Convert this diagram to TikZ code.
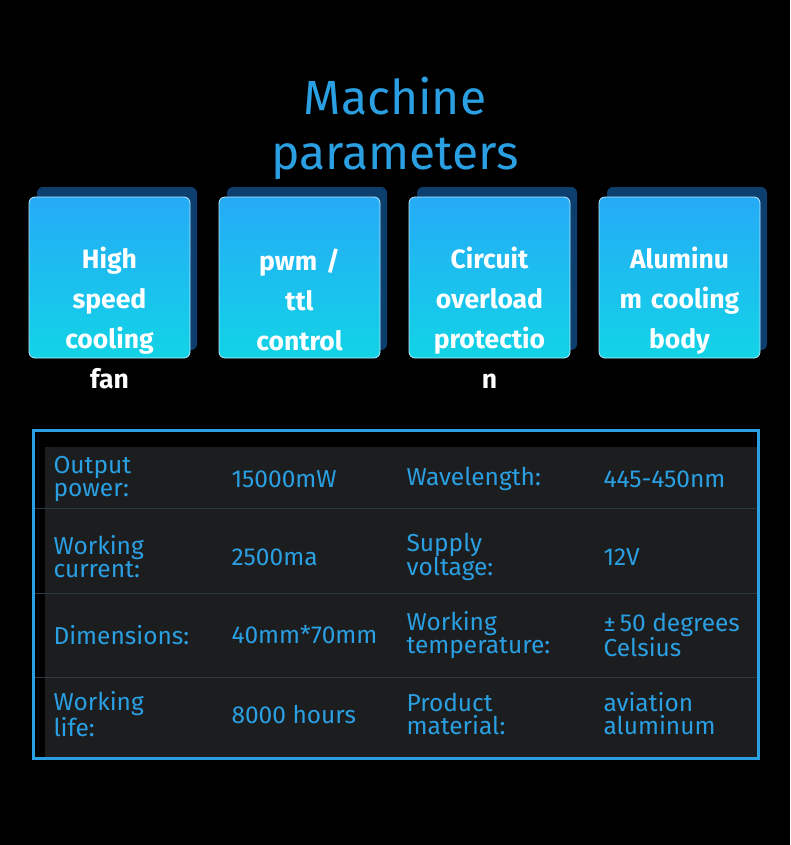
\documentclass[tikz,border=0pt]{standalone}
\usepackage{fontspec}
\setmainfont{Fira Sans}
\begin{document}
\begin{tikzpicture}[x=1pt,y=-1pt,
 card/.style={rounded corners=6pt,top color=cardtop,bottom color=cardbot,draw=white!70!cardtop,line width=0.8pt},
 back/.style={rounded corners=6pt,fill=cardback},
 ctext/.style={text=white,font=\fontsize{26.5}{40}\selectfont\bfseries,align=center,text width=170pt},
 cell/.style={text=tcol,font=\fontsize{24.5}{23}\selectfont,anchor=west,align=left}]
\definecolor{cardtop}{HTML}{25ABF6}
\definecolor{cardbot}{HTML}{12D3E6}
\definecolor{cardback}{HTML}{0C3F6E}
\definecolor{tcol}{HTML}{2A9FE2}
\definecolor{tabbg}{HTML}{1C1D1F}
\definecolor{sep}{HTML}{2C3A42}
\fill[black] (0,0) rectangle (790,845);
\useasboundingbox (0,0) rectangle (790,845);
\node[text=tcol,font=\fontsize{48}{55}\selectfont,align=center] (title) at (395,128) {Machine\\parameters};
\foreach \x/\n in {29/a,219/b,409/c,599/d}{
 \fill[back] (\x+8,187) rectangle (\x+168,350);
 \draw[card] (\x,197) rectangle (\x+161,358);
}
\node[ctext,anchor=north] (ca) at (109.5,243) {High\\speed\\cooling\\fan};
\node[ctext,anchor=north] (cb) at (299.5,245) {pwm /\\ttl\\control};
\node[ctext,anchor=north] (cc) at (489.5,243) {Circuit\\overload\\protectio\\n};
\node[ctext,anchor=north] (cd) at (679.5,243) {Aluminu\\m cooling\\body};
\fill[tabbg] (45,447) rectangle (757,757);
\foreach \y in {508,593,677} \draw[sep,line width=1pt] (35,\y) -- (757,\y);
\draw[tcol,line width=3pt] (33,430) rectangle (758,758);
\begin{scope}[every node/.style={cell}]
\node (r1a) at (50,479) {Output\\power:};
\node (r1b) at (228,479) {15000mW};
\node (r1c) at (403,479) {Wavelength:};
\node (r1d) at (600,479) {445-450nm};
\node (r2a) at (50,557) {Working\\current:};
\node (r2b) at (228,557) {2500ma};
\node (r2c) at (403,557) {Supply\\voltage:};
\node (r2d) at (600,557) {12V};
\node (r3a) at (50,635) {Dimensions:};
\node (r3b) at (228,635) {40mm*70mm};
\node (r3c) at (403,635) {Working\\temperature:};
\node (r3d) at (600,635) {±\,50 degrees\\Celsius};
\node (r4a) at (50,714) {Working\\life:};
\node (r4b) at (228,714) {8000 hours};
\node (r4c) at (403,714) {Product\\material:};
\node (r4d) at (600,714) {aviation\\aluminum};
\end{scope}
\end{tikzpicture}
\end{document}
